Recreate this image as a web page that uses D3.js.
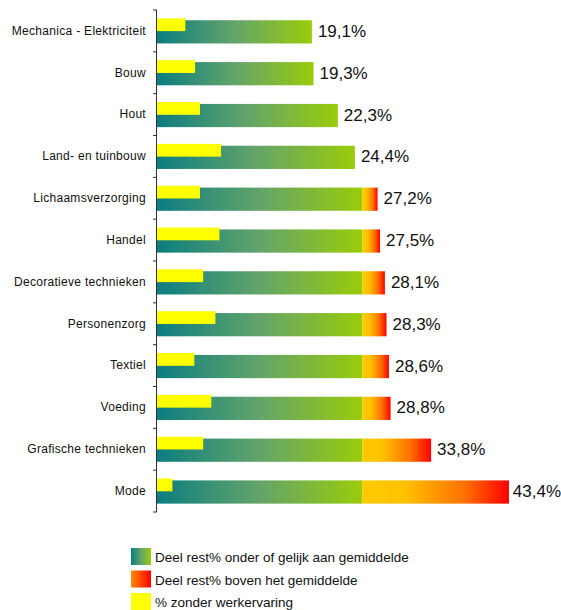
<!DOCTYPE html>
<html><head><meta charset="utf-8">
<script src="https://cdn.jsdelivr.net/npm/d3@7"></script>
<style>body{margin:0;background:#fff;}svg{display:block;font-family:"Liberation Sans",Arial,sans-serif;}</style>
</head><body>
<script>
const categories = ["Mechanica - Elektriciteit","Bouw","Hout","Land- en tuinbouw","Lichaamsverzorging","Handel","Decoratieve technieken","Personenzorg","Textiel","Voeding","Grafische technieken","Mode"];
const totalRest = [19.1,19.3,22.3,24.4,27.2,27.5,28.1,28.3,28.6,28.8,33.8,43.4];
const zonderWerkervaring = [3.5,4.7,5.3,7.9,5.3,7.7,5.7,7.2,4.6,6.7,5.7,1.9];
const average = 25.3;
const valueLabels = ["19,1%","19,3%","22,3%","24,4%","27,2%","27,5%","28,1%","28,3%","28,6%","28,8%","33,8%","43,4%"];
const legendLabels = ["Deel rest% onder of gelijk aan gemiddelde","Deel rest% boven het gemiddelde","% zonder werkervaring"];

const W=561,H=610;
const svg=d3.select("body").append("svg").attr("width",W).attr("height",H);
const defs=svg.append("defs");
const g1=defs.append("linearGradient").attr("id","gBelow").attr("x1","0").attr("x2","1").attr("y1","0").attr("y2","0");
g1.append("stop").attr("offset","0").attr("stop-color","#0c7d80");
g1.append("stop").attr("offset","0.5").attr("stop-color","#63a46a");
g1.append("stop").attr("offset","1").attr("stop-color","#9acc0a");
const g2=defs.append("linearGradient").attr("id","gAbove").attr("x1","0").attr("x2","1").attr("y1","0").attr("y2","0");
g2.append("stop").attr("offset","0").attr("stop-color","#ffcc00");
g2.append("stop").attr("offset","0.3").attr("stop-color","#ffc000");
g2.append("stop").attr("offset","0.7").attr("stop-color","#ff7000");
g2.append("stop").attr("offset","1").attr("stop-color","#ff0000");
const g3=defs.append("linearGradient").attr("id","gLegAbove").attr("x1","0").attr("x2","1").attr("y1","0").attr("y2","0");
g3.append("stop").attr("offset","0").attr("stop-color","#ff8c00");
g3.append("stop").attr("offset","1").attr("stop-color","#ff0000");

const x=d3.scaleLinear().domain([0,50]).range([157,157+8.11*50]);
const y=d3.scaleBand().domain(categories).range([10,512]).padding(0);
const bw=y.bandwidth();

const data=categories.map((c,i)=>({c,total:totalRest[i],yel:zonderWerkervaring[i],lab:valueLabels[i]}));
const rows=svg.append("g").selectAll("g").data(data).join("g").attr("transform",d=>`translate(0,${y(d.c)})`);
const gbTop=bw*0.245, gbH=bw*0.555, yTop=bw*0.2, yH=bw*0.305;
rows.append("rect").attr("x",x(0)).attr("y",gbTop).attr("height",gbH)
  .attr("width",d=>x(Math.min(d.total,average))-x(0)).attr("fill","url(#gBelow)");
rows.filter(d=>d.total>average).append("rect").attr("x",x(average)).attr("y",gbTop).attr("height",gbH)
  .attr("width",d=>x(d.total)-x(average)).attr("fill","url(#gAbove)");
rows.append("rect").attr("x",x(0)).attr("y",yTop).attr("height",yH)
  .attr("width",d=>x(d.yel)-x(0)).attr("fill","#ffff00");
rows.append("text").attr("y",bw*0.5+6).attr("font-size","17px").attr("fill","#111").text(d=>d.lab)
  .each(function(d){
    const w=this.getComputedTextLength();
    d3.select(this).attr("x",Math.min(x(d.total)+6,Math.max(x(d.total)+1,W-w)));
  });

const axis=d3.axisLeft(y).tickSize(0).tickPadding(11);
const ax=svg.append("g").attr("transform",`translate(${x(0)},0)`).call(axis);
ax.select(".domain").remove();
ax.selectAll("text").attr("font-size","12px").attr("letter-spacing","0.3px").attr("fill","#111").attr("font-family","'Liberation Sans',Arial,sans-serif");
svg.append("line").attr("x1",x(0)-0.5).attr("x2",x(0)-0.5).attr("y1",10).attr("y2",512).attr("stroke","#333");
const ticks=d3.range(categories.length+1).map(i=>10+i*bw);
svg.append("g").selectAll("line").data(ticks).join("line").attr("x1",x(0)-4).attr("x2",x(0)).attr("y1",d=>d).attr("y2",d=>d).attr("stroke","#333");

const legFills=["url(#gBelow)","url(#gLegAbove)","#ffff00"];
const lg=svg.append("g").selectAll("g").data(legendLabels).join("g").attr("transform",(d,i)=>`translate(131,${548+i*22.5})`);
lg.append("rect").attr("width",20).attr("height",17).attr("fill",(d,i)=>legFills[i]);
lg.append("text").attr("x",24).attr("y",14).attr("font-size","13.5px").attr("fill","#111").text(d=>d);
</script>
</body></html>
